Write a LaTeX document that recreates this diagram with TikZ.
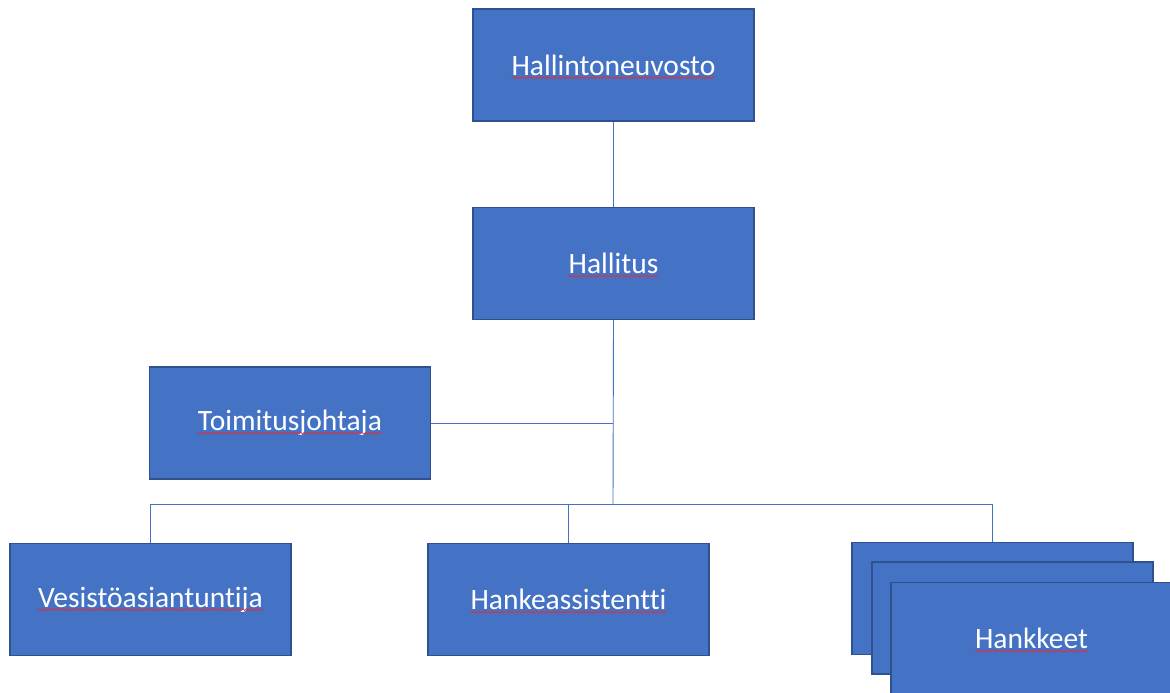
\documentclass[tikz,border=0pt]{standalone}
\usepackage{fontspec}
\setmainfont{Carlito}[RawFeature={-liga}]
\usetikzlibrary{decorations.pathmorphing}
\definecolor{boxfill}{HTML}{4472C4}
\definecolor{boxline}{HTML}{2F528F}
\definecolor{connline}{HTML}{4472C4}
\definecolor{squig}{HTML}{E0303A}
\tikzset{
  orgbox/.style={draw=boxline, line width=1.1pt, fill=boxfill, minimum width=281pt, minimum height=112pt, inner sep=0pt},
  orgtext/.style={text=white, font=\fontsize{29.5}{34}\selectfont, inner sep=0pt},
  conn/.style={draw=connline, line width=0.9pt},
  squiggle/.style={draw=squig, line width=0.7pt, decorate, decoration={snake, segment length=3.4pt, amplitude=0.9pt}}
}
\begin{document}
\begin{tikzpicture}[x=1pt,y=-1pt]
\useasboundingbox (0,0) rectangle (1170,693);
% boxes
\node[orgbox] (halneu) at (613.5,65) {};
\node[orgbox] (hallitus) at (613.5,263.5) {};
\node[orgbox] (toim) at (290,423) {};
\node[orgbox] (vesi) at (150.5,599.5) {};
\node[orgbox] (hanke) at (568.5,599.5) {};
\node[orgbox] (hk1) at (992.5,598.5) {};
\node[orgbox] (hk2) at (1012.5,618) {};
\node[orgbox] (hk3) at (1031.5,638.5) {};
% texts
\node[orgtext] (t1) at (halneu.center) {Hallintoneuvosto};
\node[orgtext] (t2) at (hallitus.center) {Hallitus};
\node[orgtext] (t3) at (toim.center) {Toimitusjohtaja};
\node[orgtext] (t4) at (vesi.center) {Vesistöasiantuntija};
\node[orgtext] (t5) at (hanke.center) {Hankeassistentti};
\node[orgtext] (t6) at (hk3.center) {Hankkeet};
% squiggly underlines
\foreach \t in {t1,t2,t3,t4,t5,t6}{
  \draw[squiggle] ([yshift=-2.5pt]\t.base west) -- ([yshift=-2.5pt]\t.base east);
}
% connectors
\coordinate (bus) at (613,504);
\draw[conn] (halneu.south) -- (hallitus.north);
\draw[conn] (hallitus.south) -- (bus);
\draw[conn] (toim.east) -- (toim.east -| bus);
\draw[conn] (vesi.north) -- (vesi.north |- bus) -- (hk1.north |- bus) -- (hk1.north);
\draw[conn] (hanke.north) -- (hanke.north |- bus);
\end{tikzpicture}
\end{document}
